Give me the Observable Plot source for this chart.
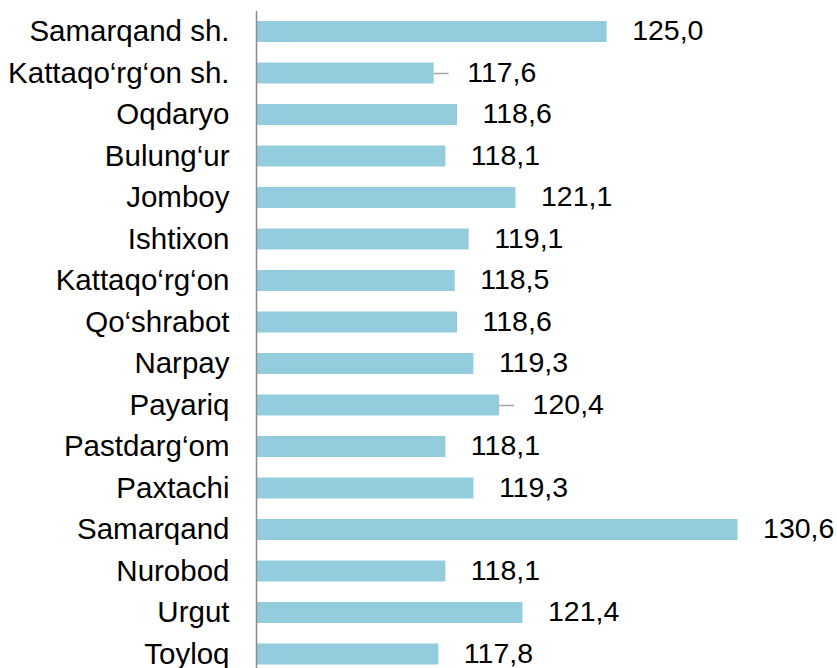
<!DOCTYPE html>
<html>
<head>
<meta charset="utf-8">
<script src="https://cdn.jsdelivr.net/npm/d3@7"></script>
<script src="https://cdn.jsdelivr.net/npm/@observablehq/plot@0.6"></script>
<style>
  html, body { margin: 0; padding: 0; background: #fff; overflow: hidden; }
  #chart svg { display: block; font-family: "Liberation Sans", Arial, sans-serif; }
</style>
</head>
<body>
<div id="chart"></div>
<script>
const categories = [
  "Samarqand sh.", "Kattaqo‘rg‘on sh.", "Oqdaryo", "Bulung‘ur", "Jomboy",
  "Ishtixon", "Kattaqo‘rg‘on", "Qo‘shrabot", "Narpay", "Payariq",
  "Pastdarg‘om", "Paxtachi", "Samarqand", "Nurobod", "Urgut", "Toyloq"
];
const values = [125.0, 117.6, 118.6, 118.1, 121.1, 119.1, 118.5, 118.6, 119.3, 120.4, 118.1, 119.3, 130.6, 118.1, 121.4, 117.8];
const leaderLabels = ["Kattaqo‘rg‘on sh.", "Payariq"];
const xDomain = [110, 134];

const data = categories.map((c, i) => ({
  name: c,
  value: values[i],
  label: values[i].toFixed(1).replace(".", ","),
  leader: leaderLabels.includes(c)
}));

const chart = Plot.plot({
  width: 837,
  height: 668,
  marginLeft: 256,
  marginRight: 20,
  marginTop: 11,
  marginBottom: 0,
  style: { fontFamily: "'Liberation Sans', Arial, sans-serif", background: "#fff", overflow: "visible" },
  x: { domain: xDomain, clamp: true, axis: null },
  y: { domain: categories, range: [10.75, 674.75], padding: 0, round: false, label: null },
  marks: [
    Plot.axisY({ tickSize: 0, tickPadding: 27, fontSize: 29.5, fill: "#000", label: null }),
    Plot.barX(data, { y: "name", x1: xDomain[0], x2: "value", fill: "#93cddd", insetTop: 10.25, insetBottom: 10.25 }),
    Plot.ruleY(data.filter(d => d.leader), { y: "name", x1: "value", x2: "value", insetRight: -15, stroke: "#a6a6a6", strokeWidth: 1.5 }),
    Plot.text(data.filter(d => !d.leader), { y: "name", x: "value", text: "label", dx: 25, dy: -1, textAnchor: "start", fontSize: 28.5, fill: "#000" }),
    Plot.text(data.filter(d => d.leader), { y: "name", x: "value", text: "label", dx: 33, dy: -1, textAnchor: "start", fontSize: 28.5, fill: "#000" }),
    Plot.ruleX([xDomain[0]], { stroke: "#8c8c8c", strokeWidth: 1.5 })
  ]
});
document.getElementById("chart").append(chart);
</script>
</body>
</html>
